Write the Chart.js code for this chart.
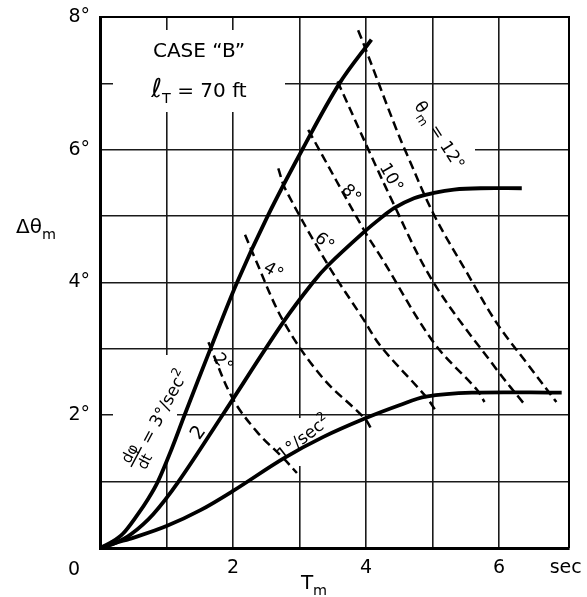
<!DOCTYPE html>
<html><head><meta charset="utf-8">
<script src="https://cdn.jsdelivr.net/npm/chart.js@4.4.1/dist/chart.umd.min.js"></script>
<style>html,body{margin:0;padding:0;background:#fff;}canvas{display:block}</style>
</head><body>
<canvas id="c" width="587" height="597"></canvas>
<script>
// ---- tick values and labels ----
const xTicks = [0, 1, 2, 3, 4, 5, 6, 7];
const xTickLabels = ['', '', '2', '', '4', '', '6', 'sec'];
const yTicks = [0, 1, 2, 3, 4, 5, 6, 7, 8];
const yTickLabels = ['', '', '2°', '', '4°', '', '6°', '', '8°'];

// ---- solid curves: dφ/dt = 3, 2, 1 °/sec² ----
const rate3X = [0, 0.16, 0.34, 0.57, 0.73, 0.87, 1.08, 1.27, 1.66, 2.06, 2.52, 3.04, 3.60, 4.08];
const rate3Y = [0, 0.08, 0.21, 0.51, 0.75, 1.00, 1.50, 2.00, 3.00, 4.00, 5.00, 6.00, 7.00, 7.66];
const rate2X = [0, 0.24, 0.47, 0.80, 1.18, 1.84, 2.76, 3.20, 3.43, 3.98, 4.22, 4.42, 4.72, 5.02, 5.32, 5.72, 6.34];
const rate2Y = [0, 0.08, 0.21, 0.51, 1.00, 2.00, 3.41, 4.00, 4.26, 4.77, 4.97, 5.12, 5.27, 5.35, 5.40, 5.42, 5.42];
const rate1X = [0, 0.21, 0.52, 1.00, 1.51, 2.00, 2.76, 3.35, 3.98, 4.50, 4.90, 5.59, 6.94];
const rate1Y = [0, 0.07, 0.16, 0.33, 0.57, 0.86, 1.35, 1.67, 1.95, 2.15, 2.28, 2.34, 2.34];

// ---- dashed lines: constant θm ----
const theta2X = [1.63, 1.99, 2.36, 2.76, 2.96];
const theta2Y = [3.10, 2.26, 1.75, 1.35, 1.13];
const theta4X = [2.18, 2.31, 2.76, 3.35, 3.98, 4.10];
const theta4Y = [4.72, 4.41, 3.41, 2.56, 1.95, 1.75];
const theta6X = [2.68, 2.78, 3.43, 3.95, 4.22, 4.90, 5.04];
const theta6Y = [5.72, 5.42, 4.26, 3.46, 3.04, 2.28, 2.08];
const theta8X = [3.13, 3.98, 4.22, 5.02, 5.67, 5.78];
const theta8Y = [6.30, 4.77, 4.39, 3.09, 2.38, 2.20];
const theta10X = [3.57, 4.42, 5.02, 5.97, 6.40];
const theta10Y = [7.03, 5.17, 3.99, 2.68, 2.14];
const theta12X = [3.88, 3.98, 4.45, 4.61, 5.02, 5.52, 5.97, 6.42, 6.86];
const theta12Y = [7.80, 7.55, 6.32, 5.94, 5.02, 4.14, 3.38, 2.78, 2.20];

const FONT = '"DejaVu Sans", sans-serif';
const pts = (xs, ys) => xs.map((x, i) => ({x, y: ys[i]}));
const solid = (xs, ys) => ({data: pts(xs, ys), showLine: true, pointRadius: 0, borderColor: '#000',
  borderWidth: 3.8, tension: 0.35, fill: false, borderCapStyle: 'butt'});
const dashed = (xs, ys) => ({data: pts(xs, ys), showLine: true, pointRadius: 0, borderColor: '#000',
  borderWidth: 2.5, borderDash: [9, 5], tension: 0.35, fill: false});

function drawRuns(ctx, runs, cx, cy, rot, size) {
  ctx.save();
  ctx.translate(cx, cy);
  ctx.rotate(rot * Math.PI / 180);
  ctx.fillStyle = '#000'; ctx.strokeStyle = '#000';
  const parts = runs.map(r => {
    const s = r.frac ? size * 0.88 : (r.sub || r.sup) ? size * 0.72 : size * (r.scale || 1);
    ctx.font = s + 'px ' + FONT;
    const w = r.frac ? Math.max(ctx.measureText(r.frac[0]).width, ctx.measureText(r.frac[1]).width) + 3
                     : ctx.measureText(r.t).width;
    return {r, s, w};
  });
  const total = parts.reduce((a, p) => a + p.w, 0);
  let x = -total / 2;
  const base = size * 0.36;
  ctx.textBaseline = 'alphabetic';
  for (const p of parts) {
    ctx.font = p.s + 'px ' + FONT;
    if (p.r.frac) {
      ctx.textAlign = 'center';
      ctx.fillText(p.r.frac[0], x + p.w / 2, -3);
      ctx.fillText(p.r.frac[1], x + p.w / 2, p.s * 0.8 + 2);
      ctx.lineWidth = 1.4;
      ctx.beginPath(); ctx.moveTo(x, -0.5); ctx.lineTo(x + p.w, -0.5); ctx.stroke();
      ctx.textAlign = 'left';
    } else {
      ctx.textAlign = 'left';
      const dy = p.r.sub ? size * 0.3 : p.r.sup ? -size * 0.42 : 0;
      ctx.fillText(p.r.t, x, base + dy);
    }
    x += p.w;
  }
  ctx.restore();
}

const whiteBoxes = [
  [113, 30, 285, 112],
  [437, 100, 475, 152],
  [113, 355, 177, 462],
  [292, 418, 305, 466]
];

const labels = [
  {runs: [{t: 'CASE “B”'}], x: 199, y: 50, rot: 0, size: 20},
  {runs: [{t: 'ℓ', scale: 1.3}, {t: 'T', sub: true}, {t: ' = 70 ft'}], x: 199, y: 90, rot: 0, size: 20},
  {runs: [{t: 'θ'}, {t: 'm', sub: true}, {t: ' = 12°'}], x: 440, y: 135, rot: 57, size: 17},
  {runs: [{t: '10°'}], x: 392, y: 177, rot: 60, size: 17},
  {runs: [{t: '8°'}], x: 352, y: 193, rot: 45, size: 17},
  {runs: [{t: '6°'}], x: 325, y: 241, rot: 40, size: 17},
  {runs: [{t: '4°'}], x: 274, y: 270, rot: 30, size: 17},
  {runs: [{t: '2°'}], x: 224, y: 362, rot: 45, size: 17},
  {runs: [{t: '1°/sec'}, {t: '2', sup: true}], x: 303, y: 437, rot: -38, size: 17},
  {runs: [{t: '2'}], x: 197, y: 432, rot: -55, size: 19},
  {runs: [{frac: ['dφ', 'dt']}, {t: ' = 3°/sec'}, {t: '2', sup: true}], x: 157, y: 419, rot: -62, size: 17},
  {runs: [{t: 'Δθ'}, {t: 'm', sub: true}], x: 36, y: 226, rot: 0, size: 20},
  {runs: [{t: 'T'}, {t: 'm', sub: true}], x: 314, y: 582, rot: 0, size: 20},
  {runs: [{t: '0'}], x: 74, y: 568, rot: 0, size: 19}
];

const paper = {
  id: 'paper',
  beforeDatasetsDraw(chart) {
    const ctx = chart.ctx, a = chart.chartArea;
    ctx.save();
    ctx.fillStyle = '#fff';
    for (const b of whiteBoxes) ctx.fillRect(b[0], b[1], b[2] - b[0], b[3] - b[1]);
    ctx.strokeStyle = '#000';
    ctx.lineWidth = 2;
    ctx.beginPath();
    ctx.moveTo(a.left, a.top); ctx.lineTo(a.right, a.top); ctx.lineTo(a.right, a.bottom);
    ctx.stroke();
    ctx.restore();
  },
  afterDatasetsDraw(chart) {
    const ctx = chart.ctx;
    for (const l of labels) drawRuns(ctx, l.runs, l.x, l.y, l.rot, l.size);
  }
};

new Chart(document.getElementById('c'), {
  type: 'scatter',
  data: {
    datasets: [
      solid(rate3X, rate3Y), solid(rate2X, rate2Y), solid(rate1X, rate1Y),
      dashed(theta2X, theta2Y), dashed(theta4X, theta4Y), dashed(theta6X, theta6Y),
      dashed(theta8X, theta8Y), dashed(theta10X, theta10Y), dashed(theta12X, theta12Y)
    ]
  },
  options: {
    responsive: false,
    devicePixelRatio: 1,
    animation: false,
    layout: {padding: {top: 17, right: 18, left: 0, bottom: 0}},
    plugins: {legend: {display: false}, tooltip: {enabled: false}},
    scales: {
      x: {
        type: 'linear', min: 0, max: 7.05,
        afterBuildTicks: s => { s.ticks = xTicks.map(v => ({value: v})); },
        afterFit: s => { s.height = 49; s.paddingLeft = 0; s.paddingRight = 0; },
        ticks: {callback: v => xTickLabels[xTicks.indexOf(v)], color: '#000',
          font: {family: FONT, size: 19}, padding: 9, maxRotation: 0, autoSkip: false},
        grid: {color: c => (c.tick && c.tick.value === 7) ? 'rgba(0,0,0,0)' : '#1a1a1a',
          lineWidth: 1.6, drawTicks: false},
        border: {display: true, color: '#000', width: 3}
      },
      y: {
        type: 'linear', min: 0, max: 8,
        afterBuildTicks: s => { s.ticks = yTicks.map(v => ({value: v})); },
        afterFit: s => { s.width = 100; s.paddingTop = 0; s.paddingBottom = 0; },
        ticks: {callback: v => yTickLabels[yTicks.indexOf(v)], color: '#000',
          font: {family: FONT, size: 19}, padding: 10, autoSkip: false},
        grid: {color: '#1a1a1a', lineWidth: 1.6, drawTicks: false},
        border: {display: true, color: '#000', width: 3}
      }
    }
  },
  plugins: [paper]
});
</script>
</body></html>
